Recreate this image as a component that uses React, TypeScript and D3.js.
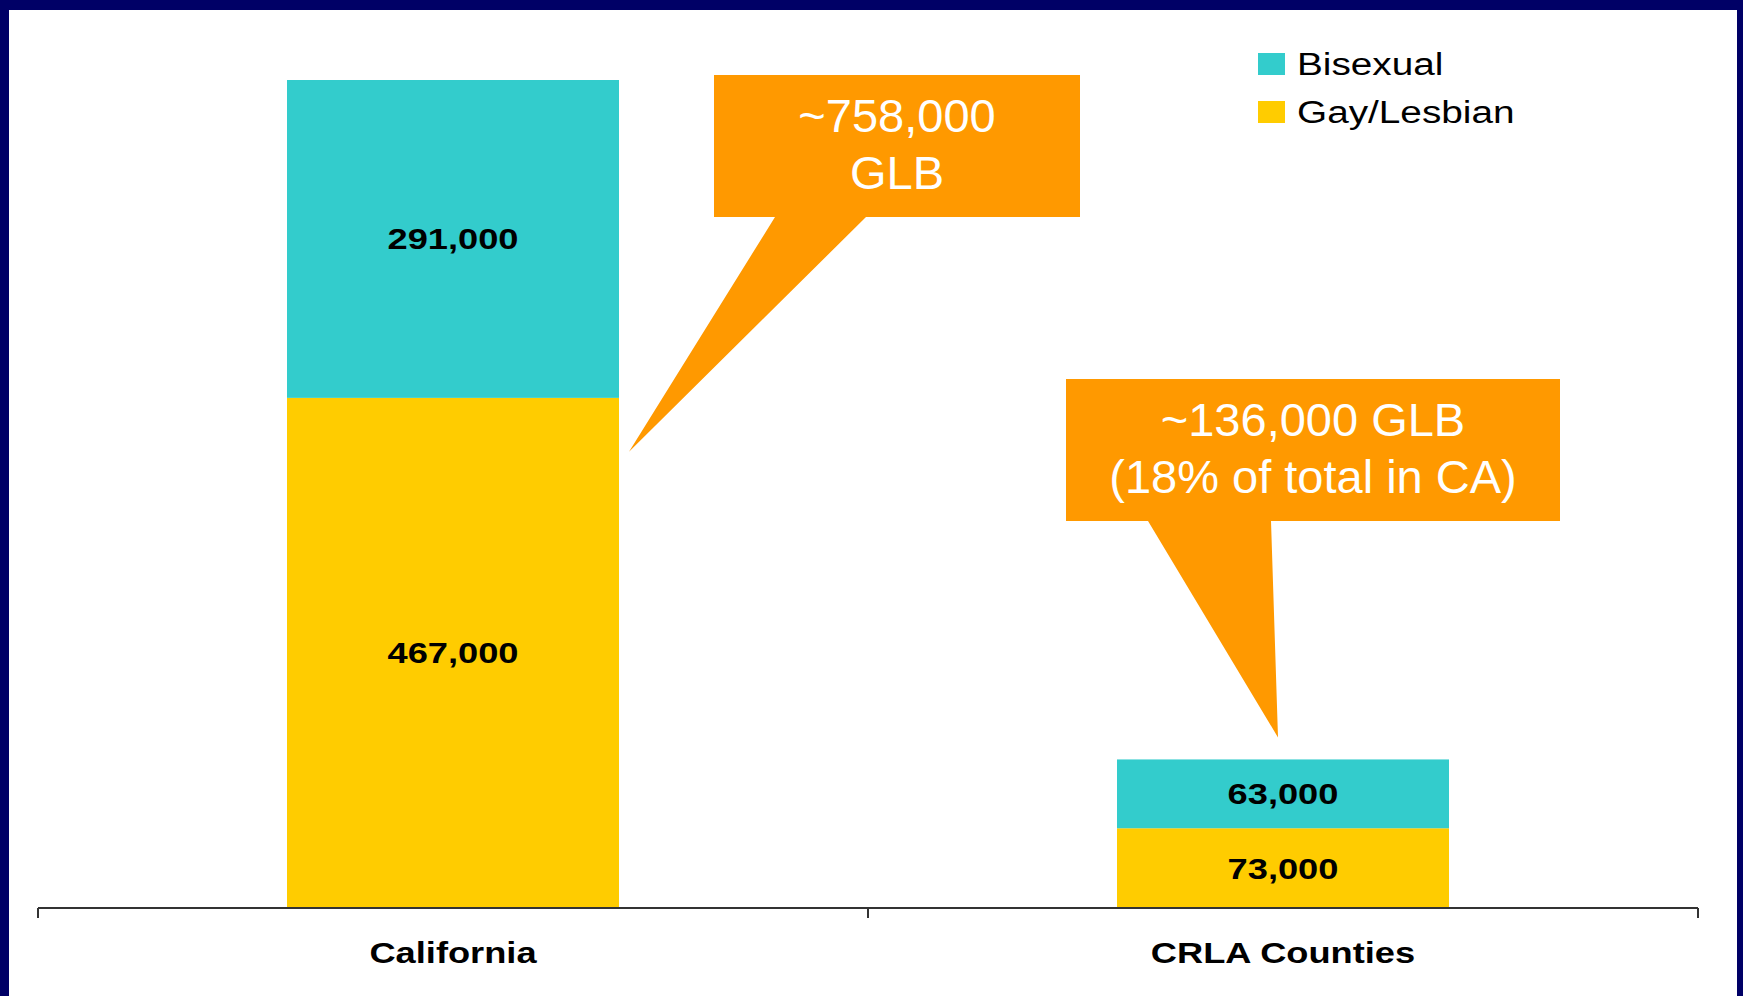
import * as d3 from "d3";
import React, { useEffect } from "react";

// chart values
const categories = ["California", "CRLA Counties"];
const gayLesbian = [467000, 73000];
const bisexual = [291000, 63000];
const seriesNames = ["Gay/Lesbian", "Bisexual"];
const legendOrder = ["Bisexual", "Gay/Lesbian"];
const calloutLines = [
	["~758,000", "GLB"],
	["~136,000 GLB", "(18% of total in CA)"],
];

const W = 1743,
	H = 996;
const FONT = "'Liberation Sans', Arial, sans-serif";
const NAVY = "#000066",
	ORANGE = "#FF9900";
const colors: Record<string, string> = { "Gay/Lesbian": "#FFCC00", Bisexual: "#33CCCC" };

const fmt = d3.format(",");

const App = (): JSX.Element => {
	useEffect(() => {
		document.body.style.margin = "0";
	}, []);

	// set the dimensions and margins of the graph
	const margin = { left: 38, right: W - 1698, baseline: 908 };

	const x = d3
		.scaleBand()
		.domain(categories)
		.range([margin.left, W - margin.right])
		.paddingInner(0.6)
		.paddingOuter(0.3);
	const xEdges = d3.scaleBand().domain(categories).range([margin.left, W - margin.right]).padding(0);

	const y = d3.scaleLinear().domain([0, 758000]).range([margin.baseline, 80]);

	// stack: gay/lesbian at bottom, bisexual on top
	const table = categories.map((c, i) => ({ cat: c, "Gay/Lesbian": gayLesbian[i], Bisexual: bisexual[i] }));
	const stacked = d3.stack<any>().keys(seriesNames)(table);

	const cx = (c: string) => x(c)! + x.bandwidth() / 2;

	// callout shapes, anchored to the bars
	const top = stacked[1];
	const box1 = { x0: 714, x1: 1080, y0: 75, y1: 217 };
	const tip1 = [x(categories[0])! + x.bandwidth() + 10, y(stacked[0][0][1]) + 54];
	const box2 = { x0: 1066, x1: 1560, y0: 379, y1: 521 };
	const tip2 = [cx(categories[1]) - 5, y(top[1][1]) - 22];

	const calloutPath = (b: typeof box1, t1: number, t2: number, tip: number[]) =>
		`M${b.x0},${b.y0}H${b.x1}V${b.y1}H${t2}L${tip[0]},${tip[1]}L${t1},${b.y1}H${b.x0}Z`;

	const ticks = [...categories.map((c) => xEdges(c)!), W - margin.right];

	return (
		<svg width={W} height={H} style={{ display: "block" }}>
			<rect x={0} y={0} width={W} height={H} fill={NAVY} />
			<rect x={9} y={10} width={1737 - 9} height={H - 10} fill="#ffffff" />

			{/* Bars */}
			{stacked.map((s) => (
				<g key={s.key}>
					{s.map((d, i) => (
						<g key={i}>
							<rect
								x={x(categories[i])}
								y={y(d[1])}
								width={x.bandwidth()}
								height={y(d[0]) - y(d[1])}
								fill={colors[s.key]}
							/>
							<text
								transform={`translate(${cx(categories[i])},${(y(d[0]) + y(d[1])) / 2 + 10.5}) scale(1.25,1)`}
								textAnchor="middle"
								fontFamily={FONT}
								fontWeight="bold"
								fontSize={29}
								fill="#000"
							>
								{fmt(d[1] - d[0])}
							</text>
						</g>
					))}
				</g>
			))}

			{/* X axis */}
			<line x1={margin.left} x2={W - margin.right} y1={margin.baseline} y2={margin.baseline} stroke="#333" strokeWidth={2} />
			{ticks.map((t, i) => (
				<line key={i} x1={t} x2={t} y1={margin.baseline} y2={margin.baseline + 10} stroke="#333" strokeWidth={2} />
			))}
			{categories.map((c) => (
				<text
					key={c}
					transform={`translate(${cx(c)},963) scale(1.25,1)`}
					textAnchor="middle"
					fontFamily={FONT}
					fontWeight="bold"
					fontSize={29}
					fill="#000"
				>
					{c}
				</text>
			))}

			{/* Callouts */}
			<path d={calloutPath(box1, 775, 866, tip1)} fill={ORANGE} />
			<path d={calloutPath(box2, 1148, 1271, tip2)} fill={ORANGE} />
			{[box1, box2].map((b, i) =>
				calloutLines[i].map((line, j) => (
					<text
						key={`${i}-${j}`}
						x={(b.x0 + b.x1) / 2}
						y={b.y0 + 57 + j * 56.6}
						textAnchor="middle"
						fontFamily={FONT}
						fontSize={47}
						fill="#fff"
					>
						{line}
					</text>
				))
			)}

			{/* Legend */}
			{legendOrder.map((s, i) => (
				<g key={s}>
					<rect x={1258} y={53 + i * 48} width={27} height={22} fill={colors[s]} />
					<text
						transform={`translate(1297,${75 + i * 48}) scale(1.25,1)`}
						fontFamily={FONT}
						fontSize={31}
						fill="#000"
					>
						{s}
					</text>
				</g>
			))}
		</svg>
	);
};

export default App;
